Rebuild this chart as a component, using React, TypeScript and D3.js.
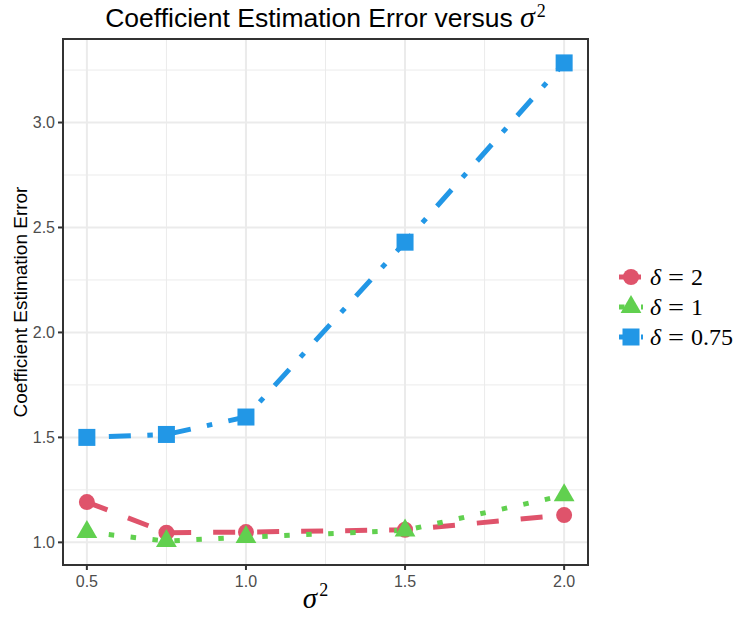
import React from "react";
import * as d3 from "d3";

// values
const sigma2 = [0.5, 0.75, 1.0, 1.5, 2.0];
const errDelta2 = [1.192, 1.046, 1.049, 1.06, 1.13];
const errDelta1 = [1.049, 1.006, 1.025, 1.057, 1.224];
const errDelta075 = [1.5, 1.514, 1.597, 2.43, 3.284];
const deltaLabels = ["2", "1", "0.75"];
const xTicks = [0.5, 1.0, 1.5, 2.0];
const yTicks = [1.0, 1.5, 2.0, 2.5, 3.0];

const W = 736;
const H = 617;
const margin = { top: 39, right: 148, bottom: 52, left: 63 };

const series = [
  { label: deltaLabels[0], values: errDelta2, color: "#DF536B", dash: "22,22", shape: "circle" },
  { label: deltaLabels[1], values: errDelta1, color: "#61D04F", dash: "5.5,16.5", shape: "triangle" },
  { label: deltaLabels[2], values: errDelta075, color: "#2297E6", dash: "5.5,16.5,22,16.5", shape: "square" },
];

const sans = "'Liberation Sans', Arial, Helvetica, sans-serif";
const serif = "'Liberation Serif', 'Times New Roman', serif";

// ggplot style 5% expansion
function expand(ext: [number, number]): [number, number] {
  const d = (ext[1] - ext[0]) * 0.05;
  return [ext[0] - d, ext[1] + d];
}

function Marker({ shape, x, y, color }: { shape: string; x: number; y: number; color: string }) {
  if (shape === "circle") return <circle cx={x} cy={y} r={8} fill={color} />;
  if (shape === "triangle") {
    const r = 12;
    const hw = r * 0.866;
    return <path d={`M${x},${y - r}L${x + hw},${y + r / 2}L${x - hw},${y + r / 2}Z`} fill={color} />;
  }
  return <rect x={x - 8.5} y={y - 8.5} width={17} height={17} fill={color} />;
}

export default function App() {
  const innerLeft = margin.left;
  const innerRight = W - margin.right;
  const innerTop = margin.top;
  const innerBottom = H - margin.bottom;

  const x = d3
    .scaleLinear()
    .domain(expand(d3.extent(sigma2) as [number, number]))
    .range([innerLeft, innerRight]);

  const allY = series.flatMap((s) => s.values);
  const y = d3
    .scaleLinear()
    .domain(expand(d3.extent(allY) as [number, number]))
    .range([innerBottom, innerTop]);

  // minor grid half way between majors
  const xStep = xTicks[1] - xTicks[0];
  const yStep = yTicks[1] - yTicks[0];
  const xMinor = d3
    .range(xTicks[0] - xStep / 2, xTicks[xTicks.length - 1] + xStep, xStep)
    .filter((v) => v > x.domain()[0] && v < x.domain()[1]);
  const yMinor = d3
    .range(yTicks[0] - yStep / 2, yTicks[yTicks.length - 1] + yStep, yStep)
    .filter((v) => v > y.domain()[0] && v < y.domain()[1]);

  const line = d3
    .line<number>()
    .x((_, i) => x(sigma2[i]))
    .y((d) => y(d));

  const midY = (innerTop + innerBottom) / 2;
  const midX = (innerLeft + innerRight) / 2;

  return (
    <svg
      width={W}
      height={H}
      viewBox={`0 0 ${W} ${H}`}
      style={{ position: "absolute", left: 0, top: 0, background: "#fff" }}
    >
      <rect x={0} y={0} width={W} height={H} fill="#fff" />

      {/* grid */}
      <g>
        {xMinor.map((v) => (
          <line key={"xm" + v} x1={x(v)} x2={x(v)} y1={innerTop} y2={innerBottom} stroke="#EBEBEB" strokeWidth={1} />
        ))}
        {yMinor.map((v) => (
          <line key={"ym" + v} x1={innerLeft} x2={innerRight} y1={y(v)} y2={y(v)} stroke="#EBEBEB" strokeWidth={1} />
        ))}
        {xTicks.map((v) => (
          <line key={"xg" + v} x1={x(v)} x2={x(v)} y1={innerTop} y2={innerBottom} stroke="#EBEBEB" strokeWidth={2} />
        ))}
        {yTicks.map((v) => (
          <line key={"yg" + v} x1={innerLeft} x2={innerRight} y1={y(v)} y2={y(v)} stroke="#EBEBEB" strokeWidth={2} />
        ))}
      </g>

      {/* lines */}
      {series.map((s) => (
        <path
          key={"l" + s.label}
          d={line(s.values) || ""}
          fill="none"
          stroke={s.color}
          strokeWidth={5}
          strokeDasharray={s.dash}
          strokeLinecap="butt"
        />
      ))}

      {/* points */}
      {series.map((s) =>
        s.values.map((v, i) => (
          <Marker key={s.label + "-" + i} shape={s.shape} x={x(sigma2[i])} y={y(v)} color={s.color} />
        ))
      )}

      {/* panel border */}
      <rect
        x={innerLeft}
        y={innerTop}
        width={innerRight - innerLeft}
        height={innerBottom - innerTop}
        fill="none"
        stroke="#333333"
        strokeWidth={2}
      />

      {/* axes ticks and labels */}
      {xTicks.map((v) => (
        <g key={"xt" + v}>
          <line x1={x(v)} x2={x(v)} y1={innerBottom} y2={innerBottom + 5} stroke="#333333" strokeWidth={2} />
          <text x={x(v)} y={innerBottom + 21.5} textAnchor="middle" fontFamily={sans} fontSize={16} fill="#4D4D4D">
            {v.toFixed(1)}
          </text>
        </g>
      ))}
      {yTicks.map((v) => (
        <g key={"yt" + v}>
          <line x1={innerLeft - 5} x2={innerLeft} y1={y(v)} y2={y(v)} stroke="#333333" strokeWidth={2} />
          <text x={innerLeft - 8} y={y(v) + 5.8} textAnchor="end" fontFamily={sans} fontSize={16} fill="#4D4D4D">
            {v.toFixed(1)}
          </text>
        </g>
      ))}

      {/* axis titles */}
      <text x={midX - 10} y={608} textAnchor="middle" fontFamily={serif} fill="#000">
        <tspan fontSize={29} fontStyle="italic">σ</tspan>
        <tspan fontSize={18} dx={2} dy={-12}>2</tspan>
      </text>
      <text
        transform={`translate(26.5,${midY}) rotate(-90)`}
        textAnchor="middle"
        fontFamily={sans}
        fontSize={19}
        fill="#000"
      >
        Coefficient Estimation Error
      </text>

      {/* title */}
      <text x={midX} y={27} textAnchor="middle" fontFamily={sans} fontSize={26.5} fill="#000">
        Coefficient Estimation Error versus{" "}
        <tspan fontFamily={serif} fontStyle="italic" fontSize={30}>σ</tspan>
        <tspan fontFamily={serif} fontSize={18} dx={2} dy={-10}>2</tspan>
      </text>

      {/* legend */}
      {series.map((s, i) => {
        const ly = 277 + i * 30;
        return (
          <g key={"lg" + s.label}>
            <line x1={619} x2={643} y1={ly} y2={ly} stroke={s.color} strokeWidth={5} strokeDasharray={s.dash} />
            <Marker shape={s.shape} x={631} y={ly} color={s.color} />
            <text x={650} y={ly + 8} fontFamily={serif} fontSize={24} fontStyle="italic" fill="#000">
              δ
            </text>
            <text
              x={668}
              y={ly + 8}
              fontFamily={serif}
              fontSize={24}
              fill="#000"
              textLength={16}
              lengthAdjust="spacingAndGlyphs"
            >
              =
            </text>
            <text x={691} y={ly + 8} fontFamily={serif} fontSize={24} fill="#000">
              {s.label}
            </text>
          </g>
        );
      })}
    </svg>
  );
}
